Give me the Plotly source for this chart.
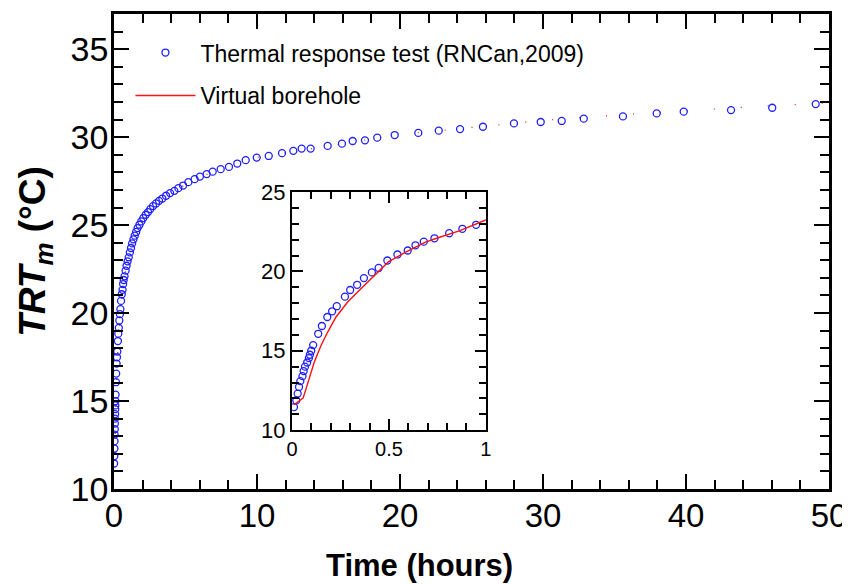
import plotly.graph_objects as go

# Thermal response test (RNCan, 2009) - measured mean fluid temperature
trt_time = [0.010, 0.022, 0.029, 0.036, 0.043, 0.054, 0.060, 0.067, 0.078, 0.087,
            0.092, 0.099, 0.109, 0.135, 0.154, 0.182, 0.207, 0.231, 0.273, 0.300,
            0.336, 0.371, 0.412, 0.447, 0.492, 0.544, 0.597, 0.637, 0.680, 0.735,
            0.811, 0.879, 0.950, 1.03, 1.11, 1.19, 1.27, 1.36, 1.45, 1.55,
            1.65, 1.78, 1.91, 2.05, 2.22, 2.38, 2.54, 2.73, 2.94, 3.15,
            3.38, 3.64, 3.92, 4.22, 4.50, 4.83, 5.20, 5.64, 6.01, 6.48,
            6.90, 7.46, 8.04, 8.62, 9.21, 9.98, 10.82, 11.75, 12.54, 13.12,
            13.75, 14.94, 15.94, 16.69, 17.55, 18.41, 19.63, 21.28, 22.71, 24.20,
            25.80, 27.97, 29.84, 31.31, 32.85, 35.59, 37.95, 39.84, 43.15, 46.03,
            49.07]
trt_temp = [11.45, 11.87, 12.30, 12.72, 13.09, 13.40, 13.72, 14.00, 14.26, 14.54,
            14.75, 15.00, 15.36, 16.07, 16.56, 17.13, 17.49, 17.81, 18.41, 18.83,
            19.16, 19.58, 19.94, 20.22, 20.69, 21.07, 21.32, 21.65, 21.88, 22.09,
            22.41, 22.69, 22.94, 23.17, 23.45, 23.70, 23.96, 24.19, 24.40, 24.61,
            24.83, 25.02, 25.21, 25.40, 25.59, 25.74, 25.91, 26.08, 26.23, 26.38,
            26.51, 26.67, 26.82, 26.95, 27.10, 27.25, 27.44, 27.61, 27.76, 27.90,
            28.04, 28.18, 28.31, 28.50, 28.69, 28.84, 28.93, 29.09, 29.22, 29.35,
            29.35, 29.50, 29.63, 29.78, 29.82, 29.97, 30.12, 30.24, 30.37, 30.46,
            30.59, 30.78, 30.86, 30.92, 31.05, 31.18, 31.35, 31.45, 31.54, 31.67,
            31.88]

# Virtual borehole - simulated mean fluid temperature
vb_time = [0.010, 0.036, 0.057, 0.071, 0.088, 0.114, 0.149, 0.184, 0.227, 0.288,
           0.358, 0.427, 0.497, 0.584, 0.689, 0.758, 0.863, 1.0,
           2, 4, 6, 10, 15, 20, 25, 30, 35, 40, 45, 50]
vb_temp = [11.60, 11.81, 12.02, 12.55, 13.19, 14.26, 15.32, 16.18, 17.13, 18.09,
           18.94, 19.75, 20.60, 21.20, 21.85, 22.14, 22.56, 23.24,
           25.35, 26.85, 27.75, 28.85, 29.50, 30.15, 30.55, 30.95, 31.25, 31.50,
           31.75, 31.95]

main_xticks = [0, 10, 20, 30, 40, 50]
main_yticks = [10, 15, 20, 25, 30, 35]
inset_xticks = [0, 0.5, 1]
inset_yticks = [10, 15, 20, 25]

FONT = "Arial, Liberation Sans, sans-serif"
BLUE = "#1f1fff"
RED = "#ff1010"

fig = go.Figure()

# main panel
fig.add_trace(go.Scatter(x=vb_time, y=vb_temp, mode="lines", showlegend=False,
                         line=dict(color=RED, width=1.2, dash="1px,26px"),
                         xaxis="x", yaxis="y"))
fig.add_trace(go.Scatter(x=trt_time, y=trt_temp, mode="markers", showlegend=False,
                         marker=dict(symbol="circle-open", size=7, color=BLUE,
                                     line=dict(width=1.3, color=BLUE)),
                         xaxis="x", yaxis="y"))

# inset panel (also provides the legend entries)
fig.add_trace(go.Scatter(x=trt_time, y=trt_temp, mode="markers",
                         name="Thermal response test (RNCan,2009)", legendgroup="a",
                         marker=dict(symbol="circle-open", size=7, color=BLUE,
                                     line=dict(width=1.3, color=BLUE)),
                         xaxis="x2", yaxis="y2"))
fig.add_trace(go.Scatter(x=vb_time, y=vb_temp, mode="lines", name="Virtual borehole",
                         legendgroup="b", line=dict(color=RED, width=1.4),
                         xaxis="x2", yaxis="y2"))

axis_common = dict(showline=True, linecolor="black", mirror="allticks",
                   ticks="inside", tickcolor="black", showgrid=False, zeroline=False,
                   automargin=False)

# page body has an 8px default margin, so the figure is offset by (8, 8)
fig.update_layout(
    width=842, height=576,
    paper_bgcolor="white", plot_bgcolor="white",
    margin=dict(l=106, r=21, t=6, b=95),
    font=dict(family=FONT, color="black"),
    xaxis=dict(domain=[0, 1], range=[0, 50], tickvals=main_xticks,
               linewidth=2.5, ticklen=15, tickwidth=1.5,
               minor=dict(dtick=2, ticklen=9, tickwidth=1.5, ticks="inside", tickcolor="black"),
               tickfont=dict(size=33), ticklabelstandoff=-4,
               **axis_common),
    yaxis=dict(domain=[0, 1], range=[10, 37], tickvals=main_yticks,
               linewidth=2.5, ticklen=15, tickwidth=1.5,
               minor=dict(dtick=1, ticklen=9, tickwidth=1.5, ticks="inside", tickcolor="black"),
               tickfont=dict(size=34), ticklabelstandoff=-4,
               title=dict(text="<b><i>TRT</i><sub><i>m</i></sub> (°C)</b>",
                          font=dict(size=37), standoff=14),
               **axis_common),
    xaxis2=dict(domain=[0.249, 0.520], range=[0, 1], tickvals=inset_xticks,
                anchor="y2", linewidth=2.2, ticklen=11, tickwidth=1.5,
                minor=dict(dtick=0.1, ticklen=7, tickwidth=1.5, ticks="inside", tickcolor="black"),
                tickfont=dict(size=20), **axis_common),
    yaxis2=dict(domain=[0.124, 0.625], range=[10, 25], tickvals=inset_yticks,
                anchor="x2", linewidth=2.2, ticklen=11, tickwidth=1.5,
                minor=dict(dtick=1, ticklen=7, tickwidth=1.5, ticks="inside", tickcolor="black"),
                tickfont=dict(size=22), **axis_common),
    legend=dict(x=0.023, y=0.964, xanchor="left", yanchor="top",
                bgcolor="rgba(0,0,0,0)", font=dict(size=23),
                itemwidth=60, traceorder="grouped", tracegroupgap=10),
    annotations=[dict(text="<b>Time (hours)</b>", xref="paper", yref="paper",
                      x=0.4266, y=0, xanchor="center", yanchor="middle",
                      yshift=-76, showarrow=False, font=dict(size=31))],
)

fig.write_html("out.html")
